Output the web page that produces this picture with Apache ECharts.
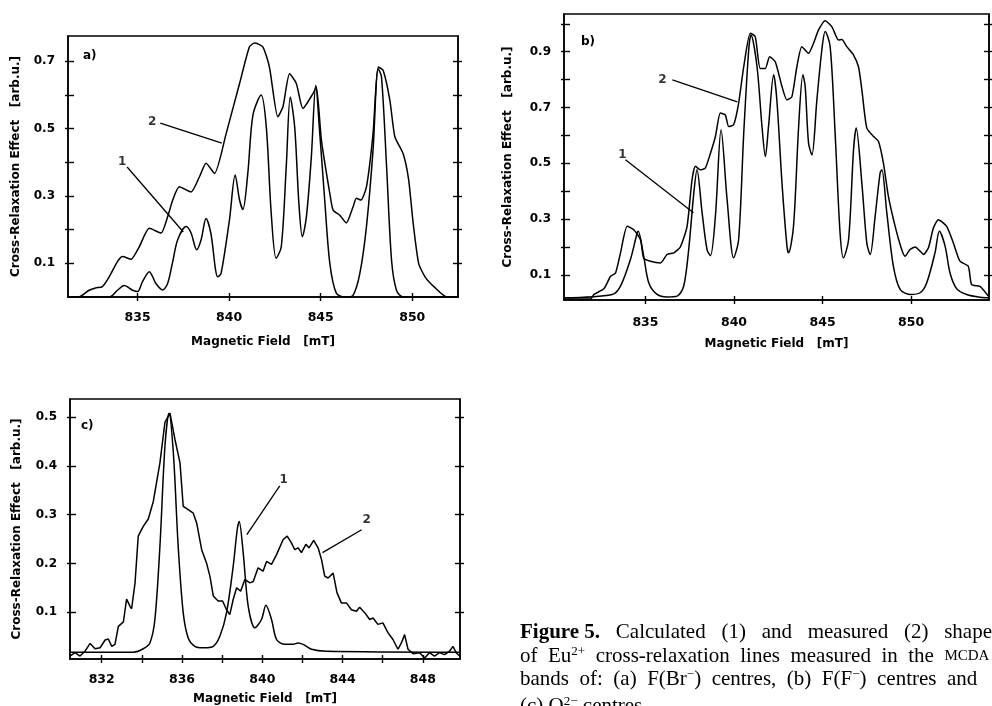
<!DOCTYPE html>
<html><head><meta charset="utf-8">
<script src="https://cdn.jsdelivr.net/npm/echarts@6/dist/echarts.min.js"></script>
<style>html,body{margin:0;padding:0;background:#fff}#c{width:992px;height:706px}</style>
</head><body><div id="c"></div>
<script>
// ---------- Panel a: F(Br-) centres ----------
const aCalcX=[831.2,833.45,833.9,834.27,834.73,835.0,835.27,835.64,836.0,836.37,836.64,836.9,837.19,837.65,837.92,838.23,838.47,838.74,839.0,839.38,839.56,840.02,840.33,840.57,840.75,841.02,841.3,841.75,842.03,842.3,842.57,842.85,843.12,843.34,843.58,843.81,844.0,844.22,844.49,844.73,844.95,845.22,845.5,845.86,846.4,846.77,847.14,847.5,847.86,848.14,848.32,848.6,848.87,849.14,849.5,852.5];
const aCalcY=[0,0,0.02,0.034,0.02,0.016,0.046,0.075,0.04,0.021,0.04,0.1,0.17,0.209,0.19,0.14,0.17,0.233,0.19,0.06,0.07,0.23,0.362,0.288,0.26,0.367,0.54,0.6,0.505,0.248,0.115,0.15,0.387,0.594,0.505,0.278,0.179,0.238,0.416,0.629,0.486,0.288,0.1,0.011,0,0.005,0.07,0.209,0.436,0.678,0.654,0.387,0.11,0.02,0,0];
const aMeasX=[831.2,831.8,832.35,832.7,833.08,833.45,833.9,834.18,834.64,835.09,835.64,836.28,836.64,836.92,837.28,837.92,838.38,838.74,839.2,839.84,840.57,841.11,841.39,841.84,842.2,842.66,842.94,843.3,843.67,844.03,844.58,844.76,845.04,845.5,845.68,846.04,846.4,846.77,846.95,847.2,847.5,847.86,848.14,848.41,848.78,849.05,849.5,849.8,850.05,850.35,850.7,851.2,851.9,852.5];
const aMeasY=[0,0,0.02,0.027,0.031,0.06,0.105,0.12,0.112,0.149,0.204,0.19,0.238,0.288,0.327,0.312,0.357,0.397,0.367,0.486,0.634,0.743,0.754,0.743,0.683,0.535,0.565,0.663,0.634,0.56,0.604,0.624,0.466,0.307,0.258,0.243,0.22,0.268,0.293,0.288,0.327,0.485,0.683,0.673,0.584,0.476,0.426,0.35,0.22,0.1,0.06,0.03,0,0];
const aXTicks=[835,840,845,850];
const aXLabels=[835,840,845,850];
const aYTicks=[0.1,0.2,0.3,0.4,0.5,0.6,0.7];
const aYLabels=[0.1,0.3,0.5,0.7];

// ---------- Panel b: F(F-) centres ----------
const bCalcX=[830.4,833.12,833.59,834.15,834.53,834.59,834.9,835.19,835.66,836.22,836.79,837.16,837.44,837.73,837.91,838.2,838.48,838.67,838.95,839.27,839.61,839.98,840.26,840.55,840.83,840.96,841.3,841.58,841.77,841.95,842.24,842.42,842.71,842.99,843.08,843.36,843.65,843.89,844.02,844.21,844.4,844.68,844.96,845.15,845.43,845.71,845.99,846.18,846.47,846.75,846.9,847.22,847.5,847.69,847.97,848.25,848.35,848.63,849.0,849.38,849.94,850.51,850.88,851.35,851.6,851.92,852.2,852.58,853.14,853.89,854.4];
const bCalcY=[0.018,0.03,0.06,0.155,0.25,0.256,0.167,0.071,0.03,0.021,0.024,0.06,0.19,0.393,0.477,0.322,0.19,0.169,0.31,0.62,0.37,0.161,0.226,0.608,0.906,0.96,0.846,0.632,0.524,0.632,0.817,0.727,0.429,0.203,0.179,0.274,0.632,0.817,0.775,0.572,0.53,0.727,0.906,0.972,0.918,0.608,0.25,0.161,0.226,0.548,0.626,0.429,0.214,0.173,0.31,0.465,0.477,0.322,0.131,0.048,0.03,0.036,0.071,0.179,0.256,0.203,0.107,0.05,0.03,0.02,0.018];
const bMeasX=[830.4,831.9,832.09,832.65,833.03,833.31,833.59,833.97,834.34,834.72,834.9,835.28,835.85,836.22,836.6,836.97,837.35,837.63,837.82,838.1,838.38,838.67,838.95,839.23,839.51,839.7,839.98,840.26,840.55,840.92,841.2,841.48,841.77,842.01,842.33,842.71,842.99,843.27,843.55,843.83,844.21,844.49,844.77,845.15,845.53,845.9,846.09,846.37,846.75,847.03,847.22,847.5,847.88,848.16,848.44,848.72,849.1,849.47,849.66,849.94,850.23,850.51,850.7,850.98,851.26,851.54,852.01,852.39,852.76,853.23,853.42,853.89,854.36];
const bMeasY=[0.014,0.014,0.03,0.05,0.095,0.107,0.179,0.274,0.262,0.226,0.16,0.149,0.143,0.173,0.179,0.2,0.274,0.441,0.489,0.477,0.483,0.536,0.596,0.68,0.673,0.632,0.638,0.715,0.846,0.966,0.954,0.84,0.84,0.882,0.864,0.775,0.727,0.739,0.846,0.918,0.894,0.93,0.977,1.011,0.989,0.942,0.944,0.918,0.888,0.846,0.763,0.626,0.596,0.578,0.5,0.381,0.274,0.191,0.167,0.191,0.2,0.185,0.173,0.197,0.268,0.298,0.274,0.214,0.149,0.131,0.065,0.059,0.024];
const bXTicks=[835,840,845,850];
const bXLabels=[835,840,845,850];
const bYTicks=[0.1,0.2,0.3,0.4,0.5,0.6,0.7,0.8,0.9,1.0];
const bYLabels=[0.1,0.3,0.5,0.7,0.9];

// ---------- Panel c ----------
const cCalcX=[830.42,833.58,834.07,834.4,834.65,834.9,835.15,835.35,835.57,835.81,836.06,836.31,836.64,837.06,837.56,837.89,838.22,838.55,838.75,838.85,839.05,839.3,839.63,839.96,840.18,840.46,840.71,841.12,841.54,841.78,842.03,842.45,843.19,849.83];
const cCalcY=[0.018,0.018,0.025,0.037,0.085,0.235,0.44,0.508,0.426,0.235,0.099,0.047,0.03,0.027,0.03,0.051,0.099,0.194,0.269,0.286,0.221,0.112,0.068,0.085,0.114,0.085,0.044,0.034,0.034,0.037,0.034,0.024,0.02,0.018];
const cMeasX=[830.42,830.67,830.92,831.17,831.42,831.67,831.92,832.17,832.33,832.5,832.66,832.83,833.08,833.24,833.41,833.49,833.66,833.82,834.07,834.32,834.57,834.9,835.15,835.4,835.65,835.9,836.06,836.31,836.56,836.73,836.98,837.22,837.39,837.56,837.8,838.02,838.22,838.38,838.55,838.72,838.92,839.13,839.38,839.55,839.79,840.04,840.21,840.46,840.71,841.04,841.24,841.45,841.62,841.78,841.95,842.17,842.33,842.56,842.78,842.95,843.11,843.28,843.53,843.72,843.94,844.19,844.44,844.69,844.85,845.1,845.35,845.52,845.76,846.01,846.26,846.51,846.76,846.93,847.09,847.26,847.51,847.84,848.09,848.33,848.58,848.83,849.08,849.33,849.5,849.66,849.83];
const cMeasY=[0.01,0.017,0.01,0.02,0.036,0.025,0.027,0.043,0.045,0.03,0.034,0.071,0.08,0.127,0.112,0.107,0.16,0.256,0.276,0.291,0.327,0.406,0.489,0.508,0.454,0.406,0.317,0.31,0.303,0.283,0.228,0.201,0.174,0.133,0.123,0.123,0.105,0.095,0.126,0.15,0.143,0.167,0.16,0.163,0.191,0.184,0.204,0.198,0.218,0.249,0.256,0.242,0.228,0.232,0.222,0.239,0.232,0.247,0.232,0.208,0.174,0.17,0.18,0.14,0.119,0.119,0.105,0.102,0.11,0.099,0.085,0.088,0.075,0.078,0.058,0.044,0.024,0.037,0.054,0.024,0.015,0.017,0.006,0.017,0.01,0.017,0.013,0.02,0.03,0.017,0.01];
const cXTicks=[832,834,836,838,840,842,844,846,848];
const cXLabels=[832,836,840,844,848];
const cYTicks=[0.1,0.2,0.3,0.4,0.5];
const cYLabels=[0.1,0.2,0.3,0.4,0.5];

// annotation leader lines (data coordinates) and their labels
const aLead1=[[834.43,0.386],[837.5,0.193]];
const aLead2=[[836.24,0.516],[839.6,0.457]];
const aNum=[[834.16,0.40,'1'],[835.8,0.52,'2']];
const bLead1=[[833.87,0.513],[837.71,0.323]];
const bLead2=[[836.52,0.799],[840.19,0.72]];
const bNum=[[833.7,0.531,'1'],[835.96,0.799,'2']];
const cLead1=[[840.87,0.359],[839.23,0.259]];
const cLead2=[[844.95,0.269],[843.0,0.222]];
const cNum=[[841.07,0.371,'1'],[845.2,0.29,'2']];

const zip=(xs,ys)=>xs.map((x,i)=>[x,ys[i]]);
const BLK='#000';
const xTickFont={fontFamily:'DejaVu Sans',fontSize:12.5,fontWeight:'bold',color:BLK};
const yTickFont={fontFamily:'DejaVu Sans',fontSize:12,fontWeight:'bold',color:BLK};
const nameFont={fontFamily:'DejaVu Sans',fontSize:12,fontWeight:'bold',color:BLK};

const panels=[
 {grid:{left:68,top:36,width:390,height:261},xr:[831.2,852.5],yr:[0,0.775],xt:aXTicks,xl:aXLabels,yt:aYTicks,yl:aYLabels,
  calc:zip(aCalcX,aCalcY),meas:zip(aMeasX,aMeasY),lead:[aLead1,aLead2],num:aNum,xm:14,xng:39,yng:46},
 {grid:{left:564,top:14,width:425,height:286},xr:[830.4,854.4],yr:[0.01,1.035],xt:bXTicks,xl:bXLabels,yt:bYTicks,yl:bYLabels,
  calc:zip(bCalcX,bCalcY),meas:zip(bMeasX,bMeasY),lead:[bLead1,bLead2],num:bNum,xm:16,xng:38,yng:50},
 {grid:{left:70,top:399,width:390,height:260},xr:[830.42,849.85],yr:[0.004,0.537],xt:cXTicks,xl:cXLabels,yt:cYTicks,yl:cYLabels,
  calc:zip(cCalcX,cCalcY),meas:zip(cMeasX,cMeasY),lead:[cLead1,cLead2],num:cNum,xm:14,xng:34,yng:47,raw:true}
];

const grid=[],xAxis=[],yAxis=[],series=[];
panels.forEach((p,gi)=>{
  grid.push(Object.assign({show:true,borderColor:BLK,borderWidth:1.5,backgroundColor:'transparent'},p.grid));
  const xi=xAxis.length, yi=yAxis.length;
  const base={gridIndex:gi,type:'value',splitLine:{show:false}};
  const tl={color:BLK,width:1.4};
  xAxis.push(Object.assign({},base,{min:p.xr[0],max:p.xr[1],position:'bottom',
    axisLine:{show:true,onZero:false,lineStyle:{color:BLK,width:1.5}},
    axisTick:{show:true,inside:false,length:4,customValues:p.xt,lineStyle:tl},
    axisLabel:{show:true,customValues:p.xl,margin:p.xm,formatter:v=>String(Math.round(v)),...xTickFont},
    name:'Magnetic Field   [mT]',nameLocation:'middle',nameGap:p.xng,nameTextStyle:nameFont}));
  xAxis.push(Object.assign({},base,{min:p.xr[0],max:p.xr[1],position:'bottom',
    axisLine:{show:false,onZero:false},axisTick:{show:true,inside:true,length:4,customValues:p.xt,lineStyle:tl},
    axisLabel:{show:false}}));
  const yb=Object.assign({},base,{min:p.yr[0],max:p.yr[1]});
  yAxis.push(Object.assign({},yb,{position:'left',
    axisLine:{show:true,onZero:false,lineStyle:{color:BLK,width:1.5}},
    axisTick:{show:true,inside:true,length:6,customValues:p.yt,lineStyle:tl},
    axisLabel:{show:true,customValues:p.yl,margin:13,formatter:v=>v.toFixed(1),...yTickFont},
    name:'Cross-Relaxation Effect   [arb.u.]',nameLocation:'middle',nameRotate:90,nameGap:p.yng,nameTextStyle:nameFont}));
  yAxis.push(Object.assign({},yb,{position:'left',axisLine:{show:false,onZero:false},
    axisTick:{show:true,inside:false,length:3,customValues:p.yt,lineStyle:tl},axisLabel:{show:false}}));
  yAxis.push(Object.assign({},yb,{position:'right',axisLine:{show:true,onZero:false,lineStyle:{color:BLK,width:1.5}},
    axisTick:{show:true,inside:true,length:5,customValues:p.yt,lineStyle:tl},axisLabel:{show:false}}));
  yAxis.push(Object.assign({},yb,{position:'right',axisLine:{show:false,onZero:false},
    axisTick:{show:true,inside:false,length:4,customValues:p.yt,lineStyle:tl},axisLabel:{show:false}}));
  const common={xAxisIndex:xi,yAxisIndex:yi,showSymbol:false,symbol:'none',animation:false,silent:true};
  series.push(Object.assign({type:'line',data:p.calc,smooth:0.3,lineStyle:{color:BLK,width:1.5}},common));
  series.push(Object.assign({type:'line',data:p.meas,smooth:p.raw?false:0.2,lineStyle:{color:BLK,width:1.5}},common));
  p.lead.forEach(l=>series.push(Object.assign({type:'line',data:l,lineStyle:{color:BLK,width:1.3}},common)));
  series.push({type:'scatter',xAxisIndex:xi,yAxisIndex:yi,symbolSize:1,itemStyle:{color:'transparent'},silent:true,animation:false,
    data:p.num.map(n=>({value:[n[0],n[1]],name:n[2]})),
    label:{show:true,position:'inside',formatter:d=>d.name,fontFamily:'DejaVu Sans',fontSize:12,fontWeight:'bold',color:BLK}});
});

const capStyle={fontFamily:'Liberation Serif',fontSize:21,fill:BLK};
const rich={b:{fontFamily:'Liberation Serif',fontSize:21,fontWeight:'bold',color:BLK},
  sup:{fontFamily:'Liberation Serif',fontSize:13,color:BLK,verticalAlign:'top',padding:[0,0,9,0]},
  sc:{fontFamily:'Liberation Serif',fontSize:15,color:BLK}};
const capLines=['{b|Figure 5.}   Calculated   (1)   and   measured   (2)   shapes',
 'of  Eu{sup|2+}  cross-relaxation  lines  measured  in  the  {sc|MCDA}',
 'bands  of:  (a)  F(Br{sup|−})  centres,  (b)  F(F{sup|−})  centres  and',
 '(c) O{sup|2−} centres.'];
const capTops=[622,645,668,695];
const graphic=[
 {type:'text',left:83,top:50,style:{text:'a)',font:'bold 12px DejaVu Sans',fill:BLK}},
 {type:'text',left:581,top:36,style:{text:'b)',font:'bold 12px DejaVu Sans',fill:BLK}},
 {type:'text',left:81,top:420,style:{text:'c)',font:'bold 12px DejaVu Sans',fill:BLK}}
].concat(capLines.map((t,i)=>({type:'text',left:520,top:capTops[i],style:Object.assign({text:t,rich:rich},capStyle)})));

const chart=echarts.init(document.getElementById('c'),null,{renderer:'canvas'});
chart.setOption({backgroundColor:'#fff',animation:false,grid,xAxis,yAxis,series,graphic});
</script></body></html>
